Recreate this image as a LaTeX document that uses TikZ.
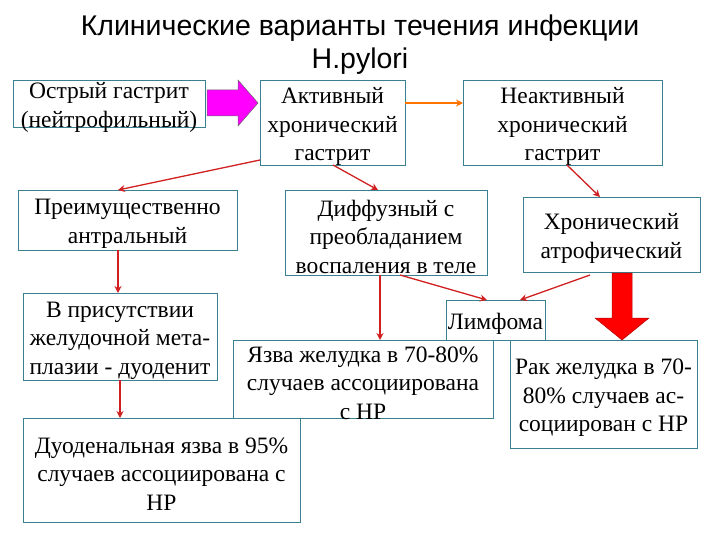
\documentclass[tikz,border=0pt]{standalone}
\usepackage{fontspec}
\setmainfont{Liberation Serif}
\newfontfamily\titlefont{Liberation Sans}
\usetikzlibrary{arrows.meta}
\definecolor{bord}{HTML}{3A8090}
\definecolor{arr}{HTML}{D02020}
\definecolor{mag}{HTML}{FF00FF}
\definecolor{fatred}{HTML}{FF0000}
\begin{document}
\begin{tikzpicture}[x=1pt,y=-1pt,
  box/.style={draw=bord,line width=0.8pt,fill=white,align=center,inner sep=0pt,font=\fontsize{23.5}{28.5}\selectfont},
  link/.style={draw=arr,line width=1.3pt,-{Stealth[length=7pt,width=7pt]}}]
\useasboundingbox[fill=white] (0,0) rectangle (720,540);
\node[font=\titlefont\fontsize{28.5}{33}\selectfont,align=center] (t) at (360,45) {Клинические варианты течения инфекции\\H.pylori};
\newcommand\bx[6]{\draw[box] (#2,#3) rectangle (#4,#5); \node[box,draw=none,fill=none] (#1) at ({(#2+#4)/2},{(#3+#5)/2+4}) {#6};}
\bx{b1}{13}{80}{205}{127}{Острый гастрит\\(нейтрофильный)}
\bx{b2}{260}{80}{405}{165}{Активный\\хронический\\гастрит}
\bx{b3}{463}{80}{662}{165}{Неактивный\\хронический\\гастрит}
\bx{b4}{18}{190}{237}{250}{Преимущественно\\антральный}
\bx{b5}{285}{190}{487}{275}{Диффузный с\\преобладанием\\воспаления в теле}
\bx{b6}{523}{197}{700}{272}{Хронический\\атрофический}
\bx{b7}{23}{293}{217}{380}{В присутствии\\желудочной мета-\\плазии - дуоденит}
\bx{b8}{446}{300}{545}{340}{Лимфома}
\bx{b9}{233}{340}{493}{418}{Язва желудка в 70-80\%\\случаев ассоциирована\\с HP}
\bx{b10}{510}{340}{697}{448}{Рак желудка в 70-\\80\% случаев ас-\\социирован с HP}
\bx{b11}{23}{418}{300}{522}{Дуоденальная язва в 95\%\\случаев ассоциирована с\\HP}
% fat magenta arrow
\draw[fill=mag,draw=black!60,line width=0.5pt] (207,90) -- (238,90) -- (238,80) -- (258,103) -- (238,126) -- (238,116) -- (207,116) -- cycle;
\draw[draw=orange!90!red,line width=1.3pt,-{Stealth[length=7pt,width=7pt]}] (405,103) -- (463,103);
\draw[link] (260,160) -- (118,190);
\draw[link] (333,165) -- (378,190);
\draw[link] (567,165) -- (600,197);
\draw[link] (118,250) -- (118,293);
\draw[link] (380,275) -- (380,340);
\draw[link] (400,275) -- (487,300);
\draw[link] (590,275) -- (520,300);
\draw[link] (120,380) -- (120,418);
% fat red arrow
\draw[fill=fatred,draw=red!70!black,line width=0.5pt] (612,273) -- (632,273) -- (632,318) -- (649,318) -- (622,340) -- (595,318) -- (612,318) -- cycle;
\end{tikzpicture}
\end{document}
